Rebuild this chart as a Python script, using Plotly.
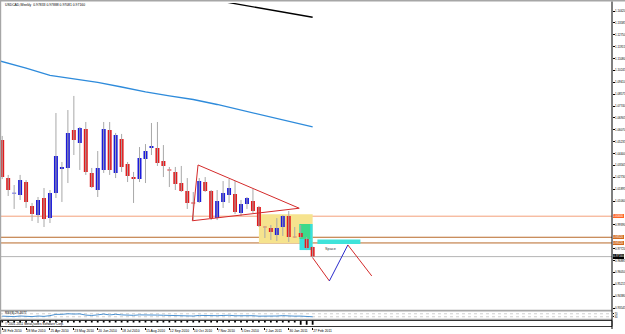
import plotly.graph_objects as go

# ---------------- data ----------------
x_ticks = [0, 4, 8, 12, 16, 20, 24, 28, 32, 36, 40, 44, 48, 52]
x_tick_labels = ["28 Feb 2010", "28 Mar 2010", "25 Apr 2010", "23 May 2010", "20 Jun 2010",
                 "18 Jul 2010", "15 Aug 2010", "12 Sep 2010", "10 Oct 2010", "7 Nov 2010",
                 "5 Dec 2010", "2 Jan 2011", "30 Jan 2011", "27 Feb 2011"]

bars = list(range(53))
opens = [1.0536, 1.0268, 1.0160, 1.0149, 1.0240, 1.0072, 1.0008, 1.0128, 0.9987, 1.0163,
         1.0332, 1.0339, 1.0606, 1.0514, 1.0613, 1.0304, 1.0184, 1.0325, 1.0606, 1.0304,
         1.0543, 1.0367, 1.0275, 1.0261, 1.0402, 1.0479, 1.0479, 1.0388, 1.0328, 1.0311,
         1.0233, 1.0177, 1.0096, 1.0100, 1.0240, 1.0177, 0.9987, 1.0100, 1.0149, 1.0156,
         1.0023, 1.0086, 1.0107, 1.0065, 0.9926, 0.9917, 0.9868, 0.9924, 1.0001, 0.9856,
         0.9882, 0.9840, 0.9783]
highs = [1.0564, 1.0290, 1.0219, 1.0290, 1.0254, 1.0093, 1.0135, 1.0198, 1.0184, 1.0725,
         1.0381, 1.0746, 1.0845, 1.0627, 1.0662, 1.0339, 1.0458, 1.0662, 1.0662, 1.0585,
         1.0578, 1.0381, 1.0311, 1.0486, 1.0507, 1.0655, 1.0662, 1.0500, 1.0346, 1.0346,
         1.0353, 1.0268, 1.0170, 1.0268, 1.0275, 1.0184, 1.0184, 1.0247, 1.0261, 1.0247,
         1.0114, 1.0135, 1.0191, 1.0072, 0.9931, 0.9938, 0.9987, 1.0008, 1.0037, 0.9924,
         0.9938, 0.9854, 0.9789]
lows = [1.0261, 1.0142, 1.0051, 1.0114, 1.0058, 0.9966, 0.9952, 0.9924, 0.9952, 1.0128,
        1.0100, 1.0233, 1.0430, 1.0325, 1.0290, 1.0198, 1.0135, 1.0304, 1.0290, 1.0268,
        1.0311, 1.0240, 1.0093, 1.0240, 1.0233, 1.0430, 1.0353, 1.0275, 1.0205, 1.0184,
        1.0170, 1.0051, 0.9973, 1.0093, 1.0170, 0.9973, 0.9973, 1.0058, 1.0093, 1.0015,
        1.0001, 1.0051, 1.0023, 0.9924, 0.9847, 0.9833, 0.9826, 0.9861, 0.9819, 0.9847,
        0.9847, 0.9762, 0.9708]
closes = [1.0275, 1.0184, 1.0165, 1.0254, 1.0100, 1.0015, 1.0114, 0.9980, 1.0163, 1.0423,
          1.0346, 1.0585, 1.0536, 1.0620, 1.0311, 1.0205, 1.0339, 1.0613, 1.0325, 1.0571,
          1.0346, 1.0282, 1.0261, 1.0409, 1.0458, 1.0493, 1.0374, 1.0353, 1.0322, 1.0226,
          1.0177, 1.0093, 1.0090, 1.0247, 1.0177, 0.9987, 1.0107, 1.0163, 1.0198, 1.0030,
          1.0086, 1.0128, 1.0037, 0.9931, 0.9922, 0.9889, 0.9917, 1.0001, 0.9854, 0.9852,
          0.9854, 0.9777, 0.9716]

ma_blue_bars = [-1, 0, 4, 8, 12, 16, 20, 24, 28, 32, 36, 40, 44, 48, 52]
ma_blue = [1.1098, 1.1087, 1.1041, 1.0989, 1.0964, 1.0940, 1.0908, 1.0873, 1.0845, 1.0820,
           1.0785, 1.0746, 1.0704, 1.0666, 1.0627]
ma_black_bars = [32, 36, 40, 44, 48, 52]
ma_black = [1.1545, 1.1516, 1.1486, 1.1457, 1.1427, 1.1398]

rsi = [38, 33, 32, 40, 35, 32, 40, 35, 45, 62, 62, 70, 66, 68, 52, 47, 55, 66, 54, 63,
       55, 50, 49, 55, 57, 58, 52, 50, 48, 45, 43, 40, 40, 48, 45, 38, 44, 47, 50, 43,
       45, 47, 44, 38, 37, 36, 40, 45, 39, 38, 39, 34, 29.4677]
strip_vals = [0.35, 0.35, 0.35, 0.35, 0.35, 0.35, 0.35, 0.35, 0.35, 0.35,
              0.35, 0.35, 0.35, 0.35, 0.35, 0.35, 0.35, 0.35, 0.35, 0.35,
              0.35, 0.35, 0.35, 0.35, 0.35, 0.35, 0.35, 0.35, 0.35, 0.35,
              0.35, 0.35, 0.35, 0.35, 0.35, 0.35, 0.35, 0.35, 0.35, 0.35,
              0.35, 0.35, 0.35, 0.35, 0.35, 0.35, 0.35, 0.35, 0.35, 0.35,
              0.7, 0.7, 0.7]

# price scale labels (those hidden behind the coloured level labels are left out)
price_ticks = [1.14420, 1.13585, 1.12750, 1.11915, 1.11080, 1.10245, 1.09410, 1.08575,
               1.07740, 1.06905, 1.06070, 1.05235, 1.04400, 1.03565, 1.02730, 1.01895,
               1.01060, 0.99390, 0.97720, 0.96885, 0.96050, 0.95215,
               0.94380, 0.93545]

levels = [1.00000, 0.98520, 0.98120]
level_line_colors = ["#F4A07A", "#B8692A", "#B8692A"]
level_label_colors = ["#FF6426", "#D2691E", "#D2691E"]
bid = 0.97160

zz_bars = [52, 54.8, 57.9, 61.9]
zz_prices = [0.9708, 0.9545, 0.9798, 0.9580]
zz_colors = ["#D42A2A", "#2A2ACC", "#D42A2A"]

tri_bars = [32.8, 49.75, 31.85]
tri_prices = [1.0360, 1.0056, 0.9968]

title_text = "USDCAD,Weekly  0.97833 0.97888 0.97081 0.97160"

# ---------------- geometry helpers ----------------
W, H = 625, 334
PW, PH = 612, 329          # plot area (margins l=0, t=0, r=13, b=5)
BAR_PX = 5.97
X0 = -0.37
X1 = X0 + PW / BAR_PX

def xp(px):
    return px / PW

def yp(py):
    return (PH - py) / PH

P_TOP = 1.15193 - 0.00070274 * 3
P_BOT = 1.15193 - 0.00070274 * 310

RED = "#E31A1C"
BLUE = "#1A1ADB"
FONT = "Liberation Sans, Arial, sans-serif"
AX_FS = 2.9

fig = go.Figure()

# MAs
fig.add_trace(go.Scatter(x=ma_blue_bars, y=ma_blue, mode="lines",
                         line=dict(color="#2E8BDB", width=1.3), hoverinfo="skip"))
fig.add_trace(go.Scatter(x=ma_black_bars, y=ma_black, mode="lines",
                         line=dict(color="#000000", width=1.3), hoverinfo="skip"))

# wicks
wx, wy = [], []
for i, h, l in zip(bars, highs, lows):
    wx += [i, i, None]
    wy += [l, h, None]
fig.add_trace(go.Scatter(x=wx, y=wy, mode="lines", line=dict(color="#A8A8A8", width=1),
                         hoverinfo="skip"))

fig.add_trace(go.Candlestick(
    x=bars, open=opens, high=highs, low=lows, close=closes,
    increasing=dict(fillcolor=BLUE, line=dict(color=BLUE, width=0)),
    decreasing=dict(fillcolor=RED, line=dict(color=RED, width=0)),
    whiskerwidth=0, hoverinfo="skip"))

# zigzag projection
for k in range(3):
    fig.add_trace(go.Scatter(x=zz_bars[k:k + 2], y=zz_prices[k:k + 2], mode="lines",
                             line=dict(color=zz_colors[k], width=1), hoverinfo="skip"))

# triangle
fig.add_trace(go.Scatter(x=tri_bars + tri_bars[:1], y=tri_prices + tri_prices[:1], mode="lines",
                         line=dict(color="#D42A2A", width=1), hoverinfo="skip"))

# RSI
fig.add_trace(go.Scatter(x=bars, y=rsi, mode="lines", yaxis="y2",
                         line=dict(color="#4A90D0", width=1), hoverinfo="skip"))
# strip indicator
fig.add_trace(go.Bar(x=bars, y=strip_vals, base=[1 - v for v in strip_vals], yaxis="y3",
                     width=0.3, marker=dict(color="#000000", line=dict(width=0)),
                     hoverinfo="skip"))

shapes = []
# rectangles
shapes.append(dict(type="rect", xref="x", yref="y", x0=43, x1=52, y0=0.9810, y1=1.0013,
                   fillcolor="#F6E38E", line=dict(width=0), layer="below"))
shapes.append(dict(type="rect", xref="x", yref="y", x0=49.8, x1=52, y0=0.9762, y1=0.9945,
                   fillcolor="#38E0E0", line=dict(width=0), layer="below"))
shapes.append(dict(type="rect", xref="x", yref="y", x0=49.8, x1=51.6, y0=0.9840, y1=0.9945,
                   fillcolor="#3CD98A", line=dict(width=0), layer="below"))
shapes.append(dict(type="rect", xref="x", yref="y", x0=52.8, x1=60, y0=0.9805, y1=0.9836,
                   fillcolor="#3FE3DA", line=dict(width=0), layer="below"))
# horizontal levels
for lv, c in zip(levels, level_line_colors):
    shapes.append(dict(type="line", xref="paper", yref="y", x0=0, x1=1, y0=lv, y1=lv,
                       line=dict(color=c, width=1), layer="below"))
shapes.append(dict(type="line", xref="paper", yref="y", x0=0, x1=1, y0=bid, y1=bid,
                   line=dict(color="#B4B4B4", width=1), layer="below"))
# RSI levels
for lv in [70, 30]:
    shapes.append(dict(type="line", xref="paper", yref="y2", x0=0, x1=1, y0=lv, y1=lv,
                       line=dict(color="#B0B0B0", width=0.6, dash="dot"), layer="below"))
# frame
GRAY = "#A6A6A6"
shapes.append(dict(type="rect", xref="paper", yref="paper", x0=0, x1=xp(W), y0=yp(1.6), y1=yp(0),
                   fillcolor=GRAY, line=dict(width=0)))
shapes.append(dict(type="rect", xref="paper", yref="paper", x0=0, x1=xp(1.2), y0=yp(H), y1=yp(0),
                   fillcolor=GRAY, line=dict(width=0)))
shapes.append(dict(type="rect", xref="paper", yref="paper", x0=0, x1=1, y0=yp(311.5), y1=yp(309.8),
                   fillcolor=GRAY, line=dict(width=0)))
shapes.append(dict(type="rect", xref="paper", yref="paper", x0=0, x1=1, y0=yp(320), y1=yp(318.8),
                   fillcolor=GRAY, line=dict(width=0)))
shapes.append(dict(type="rect", xref="paper", yref="paper", x0=xp(0.5), x1=1, y0=yp(326.5), y1=yp(320.5),
                   fillcolor="rgba(0,0,0,0)", line=dict(color="#000000", width=0.8)))
shapes.append(dict(type="line", xref="paper", yref="paper", x0=1, x1=1, y0=yp(PH), y1=yp(1.6),
                   line=dict(color="#000000", width=1)))

annotations = []
annotations.append(dict(xref="paper", yref="paper", x=xp(3), y=yp(4.5), xanchor="left",
                        yanchor="middle", text=title_text, showarrow=False,
                        font=dict(size=3.4, color="#000000", family=FONT)))
annotations.append(dict(xref="x", yref="y", x=53.73, y=0.9766, xanchor="left",
                        yanchor="middle", text="Space", showarrow=False,
                        font=dict(size=3.8, color="#333333", family=FONT)))
for lv, c in zip(levels, level_label_colors):
    annotations.append(dict(xref="paper", yref="y", x=xp(612.5), y=lv, xanchor="left",
                            yanchor="middle", text="%.5f" % lv, showarrow=False, bgcolor=c,
                            borderpad=0, borderwidth=0,
                            font=dict(size=2.8, color="#FFFFFF", family=FONT)))
annotations.append(dict(xref="paper", yref="y", x=xp(612.5), y=bid, xanchor="left",
                        yanchor="middle", text="%.5f" % bid, showarrow=False, bgcolor="#000000",
                        borderpad=0.3, borderwidth=0,
                        font=dict(size=AX_FS, color="#FFFFFF", family=FONT)))
annotations.append(dict(xref="paper", yref="paper", x=xp(3), y=yp(313.3), xanchor="left",
                        yanchor="middle", text="RSI(8) %.4f" % rsi[-1], showarrow=False,
                        font=dict(size=3.2, color="#000000", family=FONT)))
annotations.append(dict(xref="paper", yref="paper", x=xp(3), y=yp(323.5), xanchor="left",
                        yanchor="middle", text="\u00a9 2001-2011 MetaQuotes Software Corp.",
                        showarrow=False, font=dict(size=3.2, color="#000000", family=FONT)))

fig.update_layout(
    width=W, height=H,
    margin=dict(l=0, r=W - PW, t=0, b=H - PH, pad=0, autoexpand=False),
    paper_bgcolor="#FFFFFF", plot_bgcolor="#FFFFFF",
    showlegend=False, hovermode=False,
    boxgap=0.05, boxgroupgap=0.3,
    font=dict(family=FONT, size=4, color="#000000"),
    xaxis=dict(range=[X0, X1], anchor="y3", tickmode="array", tickvals=x_ticks,
               ticktext=x_tick_labels, ticklabelposition="outside right", tickangle=0,
               ticks="outside", ticklen=2, tickcolor="#000000", automargin=False,
               tickfont=dict(size=3.4, color="#000000", family=FONT),
               showgrid=False, zeroline=False, showline=False,
               rangeslider=dict(visible=False), fixedrange=True),
    yaxis=dict(domain=[yp(310), yp(3)], range=[P_BOT, P_TOP], side="right", anchor="x",
               tickmode="array", tickvals=price_ticks, automargin=False,
               ticktext=["%.5f" % v for v in price_ticks],
               ticks="outside", ticklen=1.5, tickcolor="#000000",
               tickfont=dict(size=AX_FS, color="#000000", family=FONT),
               showgrid=False, zeroline=False, showline=False),
    yaxis2=dict(domain=[yp(319), yp(311.5)], range=[0, 100], side="right", anchor="x",
                tickmode="array", tickvals=[70, 30], ticktext=["70", "30"], automargin=False,
                ticks="outside", ticklen=1, tickcolor="#000000",
                tickfont=dict(size=2.6, color="#000000", family=FONT),
                showgrid=False, zeroline=False, showline=False),
    yaxis3=dict(domain=[yp(326.5), yp(320.5)], range=[0, 1], side="right", anchor="x",
                automargin=False,
                showticklabels=False, ticks="", showgrid=False, zeroline=False, showline=False),
    shapes=shapes, annotations=annotations,
)

fig.write_html("out.html", config={"displayModeBar": False, "staticPlot": True})
